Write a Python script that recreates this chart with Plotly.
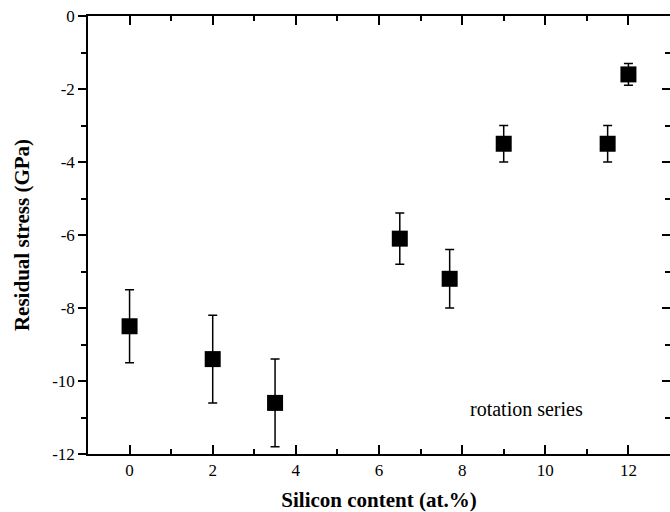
import plotly.graph_objects as go

silicon = [0, 2, 3.5, 6.5, 7.7, 9, 11.5, 12]
stress = [-8.5, -9.4, -10.6, -6.1, -7.2, -3.5, -3.5, -1.6]
stress_err = [1.0, 1.2, 1.2, 0.7, 0.8, 0.5, 0.5, 0.3]

x_ticks = [0, 2, 4, 6, 8, 10, 12]
y_ticks = [0, -2, -4, -6, -8, -10, -12]

FONT = "Liberation Serif"

fig = go.Figure()
fig.add_trace(go.Scatter(
    x=silicon, y=stress, mode="markers",
    marker=dict(symbol="square", size=16, color="black"),
    error_y=dict(type="data", array=stress_err, visible=True,
                 color="black", thickness=1.5, width=4.5),
    showlegend=False,
))
fig.add_trace(go.Scatter(x=[], y=[], yaxis="y2", showlegend=False, hoverinfo="skip"))

fig.add_annotation(x=9.55, y=-10.77, text="rotation series", showarrow=False,
                   font=dict(family=FONT, size=20, color="black"))

fig.update_layout(
    width=670, height=512,
    margin=dict(l=88, r=0, t=16, b=58),
    paper_bgcolor="white", plot_bgcolor="white",
    font=dict(family=FONT, size=17, color="black"),
    xaxis=dict(
        range=[-1, 13], tickvals=x_ticks, ticktext=[str(v) for v in x_ticks],
        ticks="inside", ticklen=9, tickwidth=1.5, tickcolor="black",
        showline=True, linecolor="black", linewidth=1.5, mirror="ticks",
        showgrid=False, zeroline=False, automargin=False,
        minor=dict(dtick=1, tick0=0, ticks="inside", ticklen=5, tickwidth=1.5, tickcolor="black"),
        title=dict(text="<b>Silicon content (at.%)</b>", font=dict(family=FONT, size=21), standoff=20),
        tickfont=dict(family=FONT, size=17),
    ),
    yaxis=dict(
        range=[-12, 0], tickvals=y_ticks, ticktext=[str(v) for v in y_ticks],
        ticks="outside", ticklen=8, tickwidth=1.5, tickcolor="black",
        showline=True, linecolor="black", linewidth=1.5,
        showgrid=False, zeroline=False, automargin=False,
        minor=dict(dtick=1, tick0=0, ticks="outside", ticklen=5, tickwidth=1.5, tickcolor="black"),
        title=dict(text="<b>Residual stress (GPa)</b>", font=dict(family=FONT, size=21), standoff=17),
        tickfont=dict(family=FONT, size=17),
    ),
    yaxis2=dict(
        overlaying="y", side="right", matches="y", range=[-12, 0],
        tickvals=y_ticks, showticklabels=False, automargin=False,
        ticks="inside", ticklen=8, tickwidth=1.5, tickcolor="black",
        showline=True, linecolor="black", linewidth=1.5,
        showgrid=False, zeroline=False,
        minor=dict(dtick=1, tick0=0, ticks="inside", ticklen=5, tickwidth=1.5, tickcolor="black"),
    ),
)

fig.write_html("out.html", config={"displayModeBar": False},
               post_script="document.body.style.margin='0';document.body.style.overflow='hidden';")
